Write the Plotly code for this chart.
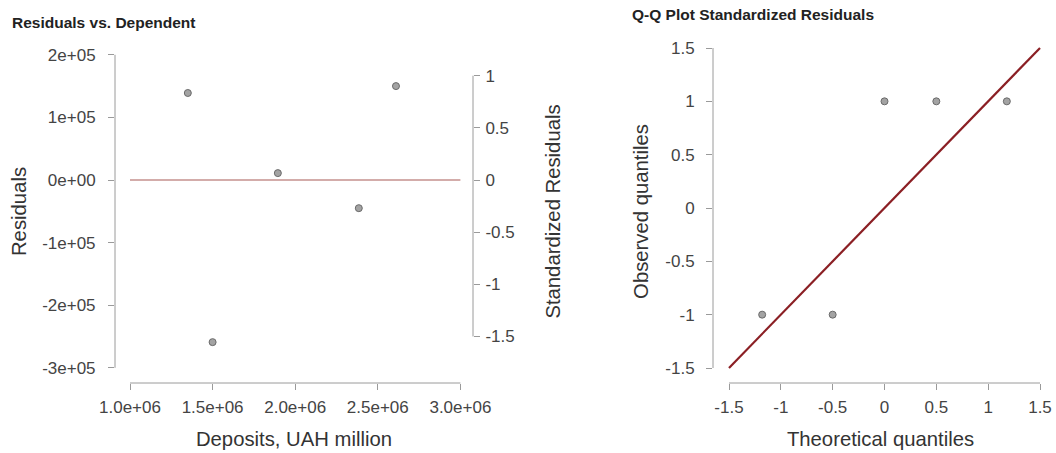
import plotly.graph_objects as go

W, H = 1056, 453

# ---- data ----
deposits = [1.35e6, 1.50e6, 1.895e6, 2.385e6, 2.61e6]
residuals = [1.39e5, -2.59e5, 0.11e5, -0.45e5, 1.50e5]
std_residuals = [0.834, -1.554, 0.066, -0.27, 0.90]
zero_line_x = [1.0e6, 3.0e6]
zero_line_y = [0, 0]

theoretical_q = [-1.18, -0.50, 0.0, 0.50, 1.18]
observed_q = [-1, -1, 1, 1, 1]
qq_line_x = [-1.5, 1.5]
qq_line_y = [-1.5, 1.5]

left_x_ticks = [1.0e6, 1.5e6, 2.0e6, 2.5e6, 3.0e6]
left_x_labels = ["1.0e+06", "1.5e+06", "2.0e+06", "2.5e+06", "3.0e+06"]
left_y_ticks = [2e5, 1e5, 0, -1e5, -2e5, -3e5]
left_y_labels = ["2e+05", "1e+05", "0e+00", "-1e+05", "-2e+05", "-3e+05"]
left_y2_ticks = [1, 0.5, 0, -0.5, -1, -1.5]
left_y2_labels = ["1", "0.5", "0", "-0.5", "-1", "-1.5"]
qq_ticks = [-1.5, -1, -0.5, 0, 0.5, 1, 1.5]
qq_labels = ["-1.5", "-1", "-0.5", "0", "0.5", "1", "1.5"]

FONT = "Liberation Sans, Arial, sans-serif"
TICKC = "#444444"
AXC = "#9a9a9a"
marker = dict(size=7, color="#a3a3a3", line=dict(color="#6a6a6a", width=1))

fig = go.Figure()
fig.add_trace(go.Scatter(x=zero_line_x, y=zero_line_y, mode="lines",
                         line=dict(color="#a85a56", width=1.2),
                         xaxis="x", yaxis="y", showlegend=False, hoverinfo="skip"))
fig.add_trace(go.Scatter(x=deposits, y=residuals, mode="markers", marker=marker,
                         xaxis="x", yaxis="y", showlegend=False))
fig.add_trace(go.Scatter(x=deposits, y=std_residuals, mode="markers",
                         marker=dict(size=7, opacity=0),
                         xaxis="x", yaxis="y2", showlegend=False))
fig.add_trace(go.Scatter(x=qq_line_x, y=qq_line_y, mode="lines",
                         line=dict(color="#8b1f24", width=2.2),
                         xaxis="x3", yaxis="y3", showlegend=False, hoverinfo="skip"))
fig.add_trace(go.Scatter(x=theoretical_q, y=observed_q, mode="markers", marker=marker,
                         xaxis="x3", yaxis="y3", showlegend=False))

ydom = [1 - 383 / H, 1 - 40 / H]
tickfont = dict(family=FONT, size=17, color=TICKC)
titlefont = dict(family=FONT, size=20.3, color="#333333")

common = dict(showgrid=False, zeroline=False, showline=False, ticks="outside",
              ticklen=6, tickcolor=AXC, tickwidth=1, tickfont=tickfont,
              tickmode="array", automargin=False)

# left panel scales
px_per_unit_x = 165.2 / 1e6
x_left_px, x_right_px, x0_px = 115, 473, 130
xl_range = [1e6 - (x0_px - x_left_px) / px_per_unit_x, 1e6 + (x_right_px - x0_px) / px_per_unit_x]
y_zero_px, y_top_px, y_bot_px = 180, 40, 383
py_per_unit = 62.6 / 1e5
yl_range = [-(y_bot_px - y_zero_px) / py_per_unit, (y_zero_px - y_top_px) / py_per_unit]
py2 = 104.3
y2_range = [-(y_bot_px - y_zero_px) / py2, (y_zero_px - y_top_px) / py2]

# right panel scales
qx_px = 103.7
qx_range = [-1.5 - (729 - 713) / qx_px, 1.5 + (1048 - 1040) / qx_px]
qy_px = 106.7
qy_range = [-1.5 - (383 - 368) / qy_px, 1.5 + (48 - 40) / qy_px]

fig.update_layout(
    width=W, height=H, margin=dict(l=0, r=0, t=0, b=0, autoexpand=False),
    paper_bgcolor="white", plot_bgcolor="white",
    font=dict(family=FONT),
    xaxis=dict(domain=[x_left_px / W, x_right_px / W], range=xl_range, anchor="y",
               tickvals=left_x_ticks, ticktext=left_x_labels, ticklabelstandoff=3,
               title=dict(text="Deposits, UAH million", font=titlefont, standoff=15),
               **common),
    yaxis=dict(domain=ydom, range=yl_range, anchor="x",
               tickvals=left_y_ticks, ticktext=left_y_labels, ticklabelstandoff=9,
               title=dict(text="Residuals", font=titlefont, standoff=10),
               **common),
    yaxis2=dict(overlaying="y", side="right", anchor="x", range=y2_range,
                tickvals=left_y2_ticks, ticktext=left_y2_labels, ticklabelstandoff=2,
                title=dict(text="Standardized Residuals", font=titlefont, standoff=32),
                **common),
    xaxis3=dict(domain=[713 / W, 1048 / W], range=qx_range, anchor="y3",
                tickvals=qq_ticks, ticktext=qq_labels, ticklabelstandoff=3,
                title=dict(text="Theoretical quantiles", font=titlefont, standoff=15),
                **common),
    yaxis3=dict(domain=ydom, range=qy_range, anchor="x3",
                tickvals=qq_ticks, ticktext=qq_labels, ticklabelstandoff=8,
                title=dict(text="Observed quantiles", font=titlefont, standoff=11),
                **common),
)

shapes = [
    dict(type="line", xref="x", yref="y domain", x0=left_x_ticks[0], x1=left_x_ticks[-1],
         y0=0, y1=0, line=dict(color=AXC, width=1)),
    dict(type="line", xref="x domain", yref="y", x0=0, x1=0, y0=left_y_ticks[-1],
         y1=left_y_ticks[0], line=dict(color=AXC, width=1)),
    dict(type="line", xref="x domain", yref="y2", x0=1, x1=1, y0=left_y2_ticks[-1],
         y1=left_y2_ticks[0], line=dict(color=AXC, width=1)),
    dict(type="line", xref="x3", yref="y3 domain", x0=qq_ticks[0], x1=qq_ticks[-1],
         y0=0, y1=0, line=dict(color=AXC, width=1)),
    dict(type="line", xref="x3 domain", yref="y3", x0=0, x1=0, y0=qq_ticks[0],
         y1=qq_ticks[-1], line=dict(color=AXC, width=1)),
]
fig.update_layout(shapes=shapes)

fig.add_annotation(text="<b>Residuals vs. Dependent</b>", xref="paper", yref="paper",
                   x=10 / W, y=1 - 22 / H, xanchor="left", yanchor="middle", showarrow=False,
                   font=dict(family=FONT, size=15.5, color="#222222"))
fig.add_annotation(text="<b>Q-Q Plot Standardized Residuals</b>", xref="paper", yref="paper",
                   x=630 / W, y=1 - 15 / H, xanchor="left", yanchor="middle", showarrow=False,
                   font=dict(family=FONT, size=15.5, color="#222222"))

fig.write_html("out.html", config={"displayModeBar": False},
               post_script="document.body.style.margin='0';document.body.style.padding='0';")
